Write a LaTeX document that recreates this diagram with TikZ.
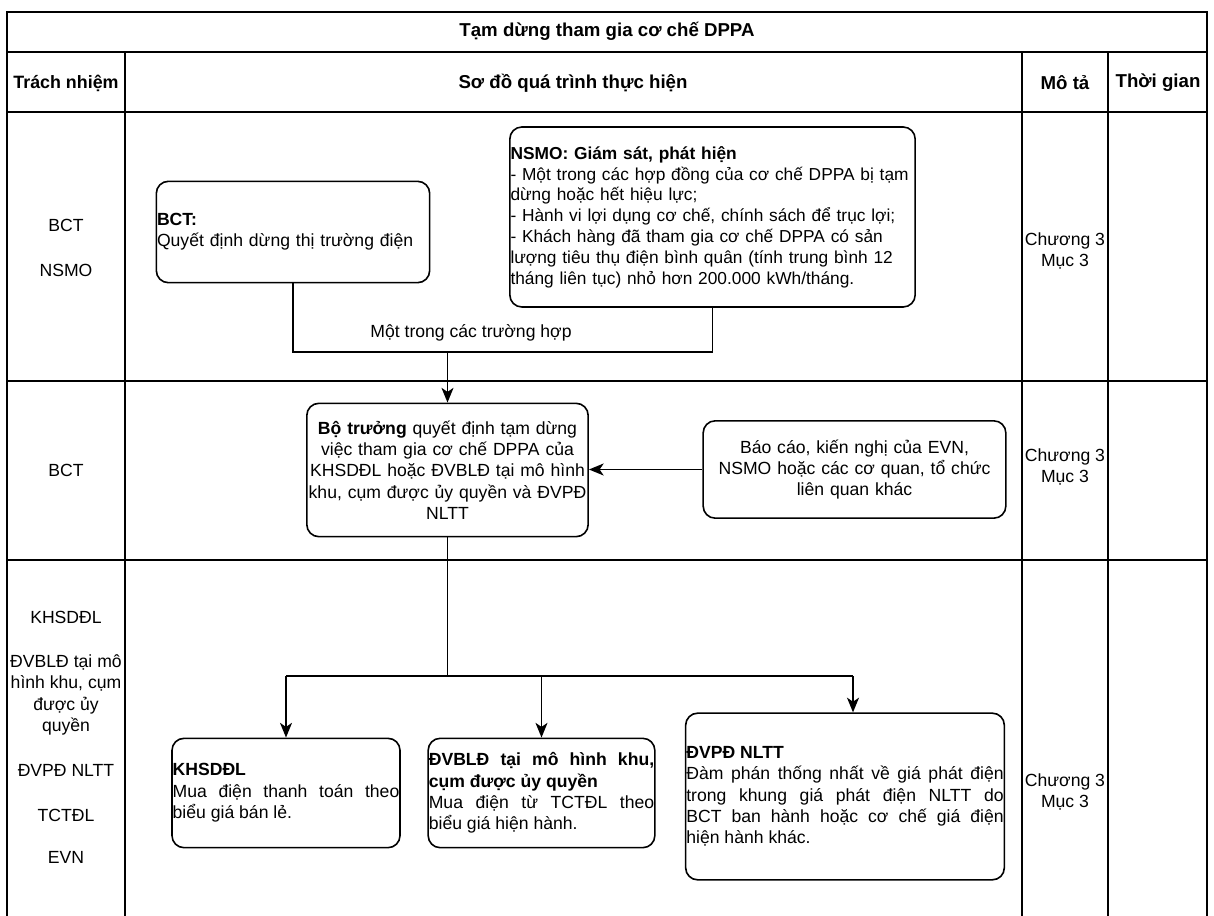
\documentclass[tikz,border=0pt]{standalone}
\usepackage{fontspec}
\setmainfont{Liberation Sans}
\usetikzlibrary{arrows.meta, positioning}
\hyphenpenalty=10000
\exhyphenpenalty=10000

\begin{document}
\begin{tikzpicture}[x=0.75pt, y=-0.75pt,
  every node/.style={font=\fontsize{13.2}{16}\selectfont, align=center},
  head/.style={font=\fontsize{14}{16}\selectfont\bfseries},
  box/.style={rectangle, draw, line width=1.2pt, rounded corners=9pt,
              inner xsep=0.5pt, inner ysep=2pt},
  lbox/.style={box, align=left},
  jbox/.style={box, align=justify},
  grid/.style={line width=1.2pt},
  link/.style={line width=1.1pt},
  arr/.style={link, -{Stealth[length=11pt, width=9pt, inset=3pt]}}
]
  \useasboundingbox (0,0) rectangle (1214,916);

  % table frame
  \draw[grid] (7,916) -- (7,12) -- (1207,12) -- (1207,916);
  \foreach \y in {52,112,381,560}
    \draw[grid] (7,\y) -- (1207,\y);
  \foreach \x in {125,1022,1108}
    \draw[grid] (\x,52) -- (\x,916);

  % headings
  \node[head] (title) at (607,31) {Tạm dừng tham gia cơ chế DPPA};
  \node[head, font=\fontsize{13.4}{16}\selectfont\bfseries] (hresp) at (66,83) {Trách nhiệm};
  \node[head] (hflow) at (573,83) {Sơ đồ quá trình thực hiện};
  \node[head] (hdesc) at (1065,83) {Mô tả};
  \node[head] (htime) at (1158,83) {Thời gian};

  % responsibility column
  \node (resp1a) at (66,225) {BCT};
  \node (resp1b) at (66,270) {NSMO};
  \node (resp2) at (66,470) {BCT};
  \node (resp3a) at (66,617) {KHSDĐL};
  \node (resp3b) at (66,695) {ĐVBLĐ tại mô\\hình khu, cụm\\được ủy\\quyền};
  \node (resp3c) at (66,770) {ĐVPĐ NLTT};
  \node (resp3d) at (66,815) {TCTĐL};
  \node (resp3e) at (66,857) {EVN};

  % description column
  \node (desc1) at (1065,251) {Chương 3\\Mục 3};
  \node (desc2) at (1065,467) {Chương 3\\Mục 3};
  \node (desc3) at (1065,792) {Chương 3\\Mục 3};

  % flow boxes
  \node[lbox, text width=204pt, minimum height=76pt] (bct) at (293,232)
    {\textbf{BCT:}\\Quyết định dừng thị trường điện};
  \node[lbox, text width=303pt, minimum height=135pt,
        font=\fontsize{13}{15.6}\selectfont] (nsmo) at (712.5,217)
    {\textbf{NSMO: Giám sát, phát hiện}\\
     - Một trong các hợp đồng của cơ chế DPPA bị tạm\\
     dừng hoặc hết hiệu lực;\\
     - Hành vi lợi dụng cơ chế, chính sách để trục lợi;\\
     - Khách hàng đã tham gia cơ chế DPPA có sản\\
     lượng tiêu thụ điện bình quân (tính trung bình 12\\
     tháng liên tục) nhỏ hơn 200.000 kWh/tháng.};
  \node[box, text width=210pt, minimum height=100pt] (minister) at (447.5,470)
    {\textbf{Bộ trưởng} quyết định tạm dừng\\
     việc tham gia cơ chế DPPA của\\
     KHSDĐL hoặc ĐVBLĐ tại mô hình\\
     khu, cụm được ủy quyền và ĐVPĐ\\
     NLTT};
  \node[box, text width=226pt, minimum height=73pt] (report) at (854.5,469.5)
    {Báo cáo, kiến nghị của EVN,\\
     NSMO hoặc các cơ quan, tổ chức\\
     liên quan khác};
  \node[jbox, text width=170pt, minimum height=82pt] (buyer) at (286,793)
    {\textbf{KHSDĐL}\\Mua điện thanh toán theo\linebreak biểu giá bán lẻ.};
  \node[jbox, text width=169pt, minimum height=82pt] (retail) at (541.5,793)
    {\textbf{ĐVBLĐ tại mô hình khu,\linebreak cụm được ủy quyền}\\
     Mua điện từ TCTĐL theo\linebreak biểu giá hiện hành.};
  \node[jbox, text width=238pt, minimum height=125pt] (seller) at (845,796.5)
    {\textbf{ĐVPĐ NLTT}\\Đàm phán thống nhất về giá phát điện\linebreak
     trong khung giá phát điện NLTT do\linebreak
     BCT ban hành hoặc cơ chế giá điện\linebreak
     hiện hành khác.};

  % connectors
  \coordinate (merge) at (447.5,352);
  \coordinate (split) at (447.5,676);
  \coordinate (tap) at (853,676);
  \draw[link] (bct.south) |- (merge) -| (nsmo.south);
  \node (case) at (471,333) {Một trong các trường hợp};
  \draw[arr] (merge) -- (minister.north);
  \draw[arr] (report.west) -- (report.west -| minister.east);
  \draw[link] (minister.south) -- (split);
  \draw[link] (split -| buyer.north) -- (tap);
  \draw[arr] (split -| buyer.north) -- (buyer.north);
  \draw[arr] (split -| retail.north) -- (retail.north);
  \draw[arr] (tap) -- (tap |- seller.north);
\end{tikzpicture}
\end{document}
